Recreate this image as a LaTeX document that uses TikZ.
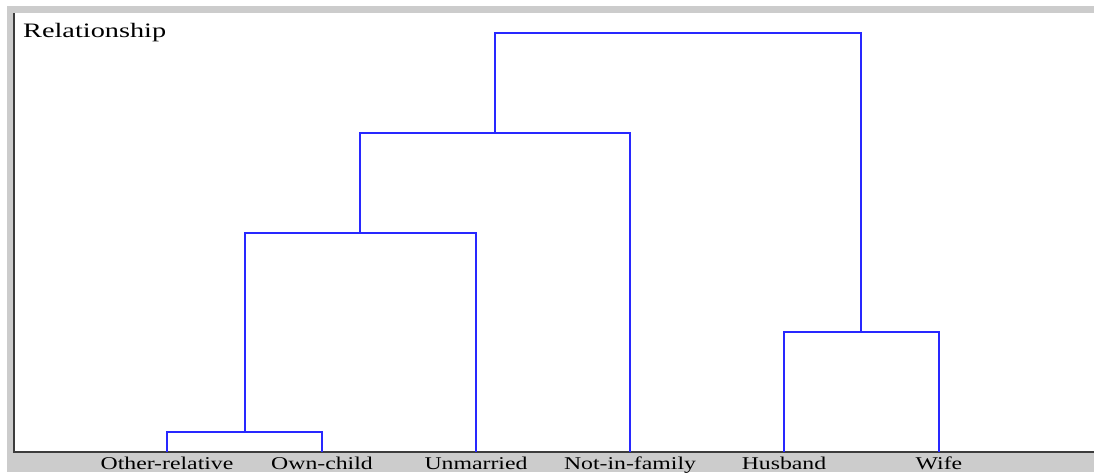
\documentclass[tikz,border=0pt]{standalone}
\usepackage{fontspec}
\setmainfont{Liberation Serif}
\usetikzlibrary{positioning}
\definecolor{cblue}{HTML}{2828FF}
\definecolor{cframe}{HTML}{CCCCCC}
\definecolor{cdark}{HTML}{3C3C3C}
\newcommand{\widetext}[2][1.32]{\scalebox{#1}[1]{#2}}
\tikzset{
  every picture/.style={x=1pt, y=-1pt},
  link/.style={draw=cblue, line width=1.3pt},
  leaflabel/.style={anchor=base, inner sep=0pt, font=\fontsize{18}{20}\selectfont, text=black},
  title/.style={anchor=base west, inner sep=0pt, font=\fontsize{20.5}{23}\selectfont, text=black},
}
\begin{document}
\begin{tikzpicture}
  \useasboundingbox (0,0) rectangle (1094,472);
  \fill[white] (0,0) rectangle (1094,472);
  \fill[cframe] (7,6) rectangle (1094,472);
  \fill[white] (13,13) rectangle (1094,452);
  \draw[cdark, line width=2pt] (14,13) -- (14,452) -- (1094,452);
  \node[title] (ttl) at (23,37.3) {\widetext[1.38]{Relationship}};
  % leaves
  \coordinate (orel) at (167,452);
  \coordinate (ochild) at (322,452);
  \coordinate (unm) at (476,452);
  \coordinate (nfam) at (630,452);
  \coordinate (husb) at (784,452);
  \coordinate (wife) at (939,452);
  \node[leaflabel] (lorel) at (167,469) {\widetext{Other-relative}};
  \node[leaflabel] (lochild) at (322,469) {\widetext{Own-child}};
  \node[leaflabel] (lunm) at (476,469) {\widetext{Unmarried}};
  \node[leaflabel] (lnfam) at (630,469) {\widetext{Not-in-family}};
  \node[leaflabel] (lhusb) at (784,469) {\widetext{Husband}};
  \node[leaflabel] (lwife) at (939,469) {\widetext{Wife}};
  % merges
  \coordinate (m1) at (245,432);
  \coordinate (m2) at (360,233);
  \coordinate (m3) at (495,133);
  \coordinate (m4) at (861,332);
  \coordinate (m5) at (678,33);
  \draw[link] (orel) |- (m1) -| (ochild);
  \draw[link] (m1) |- (m2) -| (unm);
  \draw[link] (m2) |- (m3) -| (nfam);
  \draw[link] (husb) |- (m4) -| (wife);
  \draw[link] (m3) |- (m5) -| (m4);
\end{tikzpicture}
\end{document}
